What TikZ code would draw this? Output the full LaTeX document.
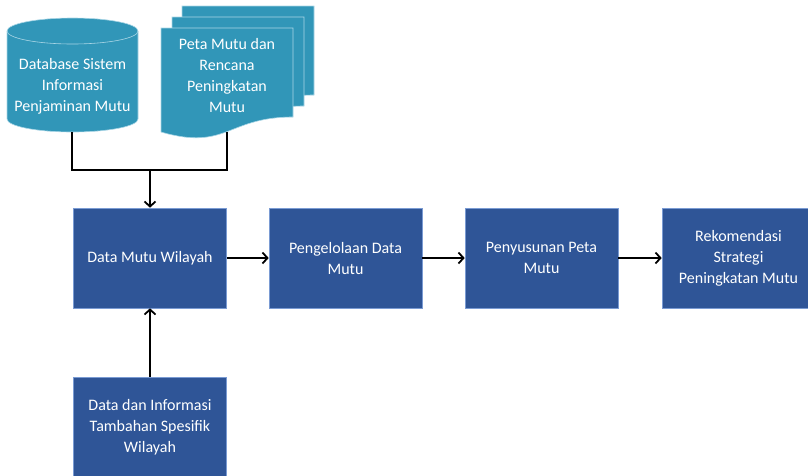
\documentclass[tikz,border=0pt]{standalone}
\usepackage{fontspec}
\setmainfont{Carlito}
\usetikzlibrary{arrows.meta}
\definecolor{tealfill}{HTML}{3196B8}
\definecolor{tealedge}{HTML}{A9D6E6}
\definecolor{boxblue}{HTML}{2F5597}
\definecolor{boxedge}{HTML}{7A9BD3}
\begin{document}
\begin{tikzpicture}[x=1pt,y=-1pt,
  txt/.style={font=\fontsize{16}{21}\selectfont, text=white, align=center},
  pbox/.style={txt, fill=boxblue, draw=boxedge, line width=0.6pt, minimum width=153pt, minimum height=100pt, inner sep=0pt},
  shapefill/.style={fill=tealfill, draw=tealedge, line width=0.6pt},
  conn/.style={line width=1.8pt, black},
  arr/.style={conn, -{Straight Barb[length=5pt,width=11pt]}}]
\useasboundingbox (0,0) rectangle (808,475);
\clip (0,0) rectangle (808,475);
% cylinder
\draw[shapefill] (7,31) -- (7,119) arc[start angle=180,end angle=360,x radius=65.5pt,y radius=13pt] -- (138,31) arc[start angle=0,end angle=180,x radius=65.5pt,y radius=13pt] -- cycle;
\draw[draw=tealedge, line width=0.6pt] (7,31) arc[start angle=180,end angle=360,x radius=65.5pt,y radius=13pt];
\node[txt] (db) at (72.5,86) {Database Sistem\\Informasi\\Penjaminan Mutu};
% multi-document
\foreach \dx/\dy in {21/-22, 11/-11, 0/0} {
  \draw[shapefill, shift={(\dx,\dy)}] (161,28) -- (293,28) -- (293,117) .. controls (227,117) and (227,151) .. (161,132) -- cycle;
}
\node[txt] (doc) at (227,75) {Peta Mutu dan\\Rencana\\Peningkatan\\Mutu};
% process boxes
\node[pbox] (b1) at (150,258) {Data Mutu Wilayah};
\node[pbox] (b2) at (345.5,258) {Pengelolaan Data\\Mutu};
\node[pbox] (b3) at (541.5,258) {Penyusunan Peta\\Mutu};
\node[pbox] (b4) at (738.5,258) {Rekomendasi\\Strategi\\Peningkatan Mutu};
\node[pbox] (b5) at (150,427) {Data dan Informasi\\Tambahan Spesifik\\Wilayah};
% connectors
\coordinate (dbb) at (72,132);
\coordinate (docb) at (227,131.5);
\coordinate (j) at (150,170);
\draw[conn] (dbb) |- (j) -| (docb);
\draw[arr] (j) -- (b1);
\draw[arr] (b1) -- (b2);
\draw[arr] (b2) -- (b3);
\draw[arr] (b3) -- (b4);
\draw[arr] (b5) -- (b1);
\end{tikzpicture}
\end{document}
